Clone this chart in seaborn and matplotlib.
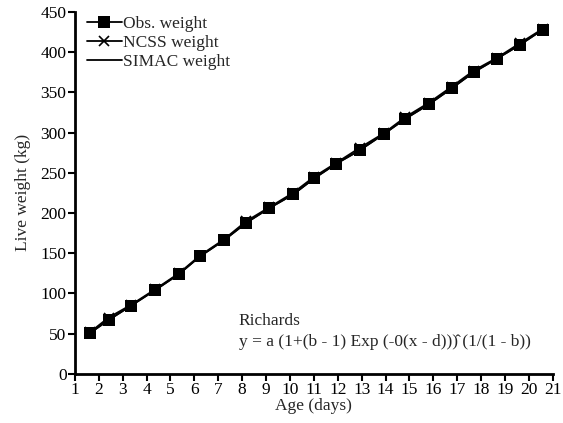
import matplotlib
matplotlib.use("Agg")
import matplotlib.pyplot as plt
import seaborn as sns

# values
age_days = [1.64, 2.41, 3.36, 4.35, 5.35, 6.23, 7.23, 8.18, 9.13, 10.13, 11.01,
            11.92, 12.92, 13.92, 14.82, 15.81, 16.77, 17.69, 18.67, 19.62, 20.58]
obs_weight = [51, 67, 85, 104, 124, 146, 166, 188, 206, 223, 243,
              261, 278, 298, 317, 335, 355, 375, 392, 409, 428]
ncss_weight = [52, 70, 86, 105, 125, 147, 167, 190, 207, 225, 245,
               262, 281, 299, 319, 337, 357, 377, 393, 411, 429]
simac_weight = [51, 67, 85, 104, 124, 146, 166, 188, 206, 223, 243,
                261, 278, 298, 317, 335, 355, 375, 392, 409, 428]

x_ticks = list(range(1, 22))
y_ticks = list(range(0, 451, 50))

sns.set_style("ticks")
plt.rcParams["font.family"] = ["Liberation Serif", "DejaVu Serif"]
fs = 12.5

fig = plt.figure(figsize=(5.63, 4.23), dpi=100)
ax = fig.add_axes([0.133, 0.116, 0.849, 0.856])

# obs squares on top so only the tips of the NCSS crosses show
sns.lineplot(x=age_days, y=obs_weight, ax=ax, color="black", lw=1.3,
             marker="s", markersize=9, markeredgewidth=0, zorder=4,
             label="Obs. weight")
sns.lineplot(x=age_days, y=ncss_weight, ax=ax, color="black", lw=1.3,
             marker="x", markersize=7, markeredgewidth=1.2,
             markeredgecolor="black", zorder=3, label="NCSS weight")
sns.lineplot(x=age_days, y=simac_weight, ax=ax, color="black", lw=1.3,
             zorder=2, label="SIMAC weight")

ax.set_xlim(1, 21)
ax.set_ylim(0, 450)
ax.set_xticks(x_ticks)
ax.set_yticks(y_ticks)
ax.tick_params(direction="out", length=5, width=1.5, colors="black",
               labelsize=fs, pad=1)
for side in ["left", "bottom"]:
    ax.spines[side].set_linewidth(2)
    ax.spines[side].set_color("black")
sns.despine(ax=ax)

ax.set_xlabel("Age (days)", fontsize=fs, labelpad=0)
ax.set_ylabel("Live weight (kg)", fontsize=fs, labelpad=7)

ax.text(7.86, 66, "Richards", fontsize=fs, va="center")
ax.text(7.86, 40, "y = a (1+(b - 1) Exp (-0(x - d)))\u0302 (1/(1 - b))",
        fontsize=fs, va="center")

ax.legend(loc="upper left", bbox_to_anchor=(0.0, 1.022), frameon=False,
          fontsize=fs, handlelength=2.0, handletextpad=0.1,
          labelspacing=0.15, borderaxespad=0.3)

fig.savefig("out.png", dpi=100)
